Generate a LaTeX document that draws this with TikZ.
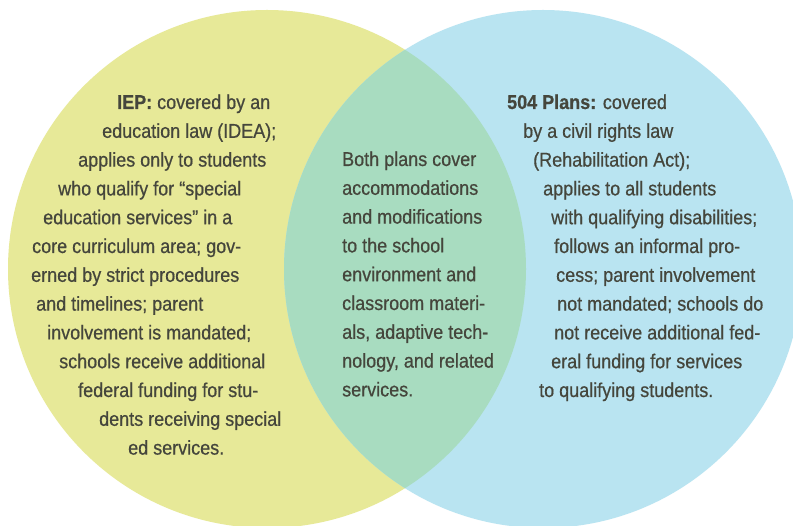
\documentclass[tikz,border=0pt]{standalone}
\usepackage{fontspec}
\setmainfont{Liberation Sans}[FakeStretch=0.9,FakeBold=0.6,BoldFeatures={FakeBold=0.6}]
\definecolor{iepyellow}{HTML}{E7E998}
\definecolor{planblue}{HTML}{B9E4F1}
\definecolor{bothgreen}{HTML}{A8DCC0}
\definecolor{txt}{HTML}{45463C}
\begin{document}
\begin{tikzpicture}[x=1pt,y=-1pt,
  textline/.style={anchor=base west, inner sep=0pt, font=\fontsize{20}{28.8}\selectfont, text=txt}]
\useasboundingbox (0,0) rectangle (793,526);
\fill[white] (0,0) rectangle (793,526);
\begin{scope}
  \clip (0,0) rectangle (793,526);
  \fill[iepyellow] (267,269) circle (259pt);
  \fill[planblue] (543,269) circle (259pt);
  \begin{scope}
    \clip (543,269) circle (259pt);
    \fill[bothgreen] (267,269) circle (259pt);
  \end{scope}
\end{scope}
% IEP block
\node[textline] (iep1) at (117,109) {\textbf{IEP:} covered by an};
\node[textline] (iep2) at (102,137.8) {education law (IDEA);};
\node[textline] (iep3) at (78,166.6) {applies only to students};
\node[textline] (iep4) at (58,195.4) {who qualify for “special};
\node[textline] (iep5) at (43,224.2) {education services” in a};
\node[textline] (iep6) at (32,253) {core curriculum area; gov-};
\node[textline] (iep7) at (31,281.8) {erned by strict procedures};
\node[textline] (iep8) at (36,310.6) {and timelines; parent};
\node[textline] (iep9) at (47,339.4) {involvement is mandated;};
\node[textline] (iep10) at (59,368.2) {schools receive additional};
\node[textline] (iep11) at (78,397) {federal funding for stu-};
\node[textline] (iep12) at (99,425.8) {dents receiving special};
\node[textline] (iep13) at (128,454.6) {ed services.};
% Both block
\node[textline] (both1) at (342,166) {Both plans cover};
\node[textline] (both2) at (342,194.8) {accommodations};
\node[textline] (both3) at (342,223.6) {and modifications};
\node[textline] (both4) at (342,252.4) {to the school};
\node[textline] (both5) at (342,281.2) {environment and};
\node[textline] (both6) at (342,310) {classroom materi-};
\node[textline] (both7) at (342,338.8) {als, adaptive tech-};
\node[textline] (both8) at (342,367.6) {nology, and related};
\node[textline] (both9) at (342,396.4) {services.};
% 504 block
\node[textline] (p1) at (507,109) {\textbf{504 Plans:} covered};
\node[textline] (p2) at (523,137.8) {by a civil rights law};
\node[textline] (p3) at (533,166.6) {(Rehabilitation Act);};
\node[textline] (p4) at (543,195.4) {applies to all students};
\node[textline] (p5) at (551,224.2) {with qualifying disabilities;};
\node[textline] (p6) at (554,253) {follows an informal pro-};
\node[textline] (p7) at (556,281.8) {cess; parent involvement};
\node[textline] (p8) at (557,310.6) {not mandated; schools do};
\node[textline] (p9) at (554,339.4) {not receive additional fed-};
\node[textline] (p10) at (551,368.2) {eral funding for services};
\node[textline] (p11) at (539,397) {to qualifying students.};
\end{tikzpicture}
\end{document}
